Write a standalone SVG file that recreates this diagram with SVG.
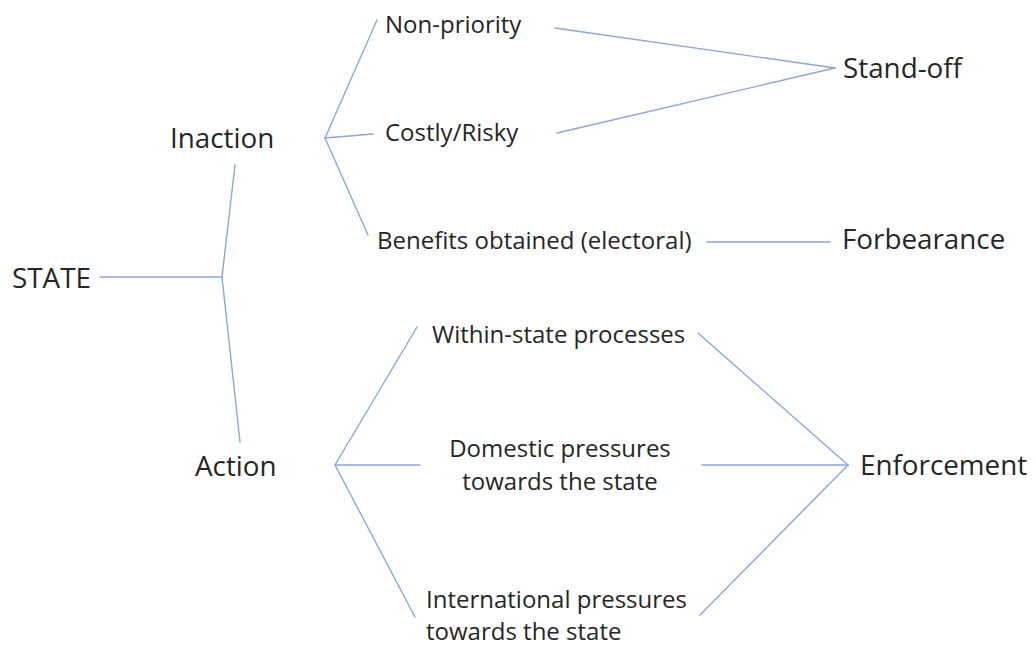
<svg xmlns="http://www.w3.org/2000/svg" width="1036" height="648" viewBox="0 0 1036 648">
<style>
text { font-family: "Open Sans", "Noto Sans", "DejaVu Sans", sans-serif; fill: #262626; }
.big { font-size: 27.8px; }
.small { font-size: 24px; }
.conn line { stroke: #8ea5d6; stroke-width: 1.4; fill: none; stroke-linecap: round; }
</style>
<rect width="1036" height="648" fill="#ffffff"/>
<g class="conn" id="connectors">
  <line x1="100" y1="277" x2="222" y2="277"/>
  <line x1="235" y1="165" x2="222" y2="277"/>
  <line x1="222" y1="277" x2="240" y2="442"/>
  <line x1="325" y1="138" x2="377" y2="20"/>
  <line x1="325" y1="138" x2="373" y2="134"/>
  <line x1="325" y1="138" x2="368" y2="235"/>
  <line x1="555" y1="28" x2="835" y2="68"/>
  <line x1="557" y1="133" x2="835" y2="68"/>
  <line x1="707" y1="242" x2="830" y2="242"/>
  <line x1="335" y1="465" x2="417" y2="327"/>
  <line x1="335" y1="465" x2="420" y2="465"/>
  <line x1="335" y1="465" x2="415" y2="617"/>
  <line x1="698" y1="333" x2="848" y2="465"/>
  <line x1="702" y1="465" x2="848" y2="465"/>
  <line x1="700" y1="615" x2="848" y2="465"/>
</g>
<g id="state"><text class="big" x="12" y="288">STATE</text></g>
<g id="inaction"><text class="big" x="170" y="148">Inaction</text></g>
<g id="action"><text class="big" x="195" y="476">Action</text></g>
<g id="non-priority"><text class="small" x="385" y="33">Non-priority</text></g>
<g id="costly-risky"><text class="small" x="385" y="141">Costly/Risky</text></g>
<g id="benefits"><text class="small" x="377" y="249">Benefits obtained (electoral)</text></g>
<g id="stand-off"><text class="big" x="843" y="78">Stand-off</text></g>
<g id="forbearance"><text class="big" x="842" y="249">Forbearance</text></g>
<g id="within-state"><text class="small" x="432" y="343">Within-state processes</text></g>
<g id="domestic"><text class="small" x="560" y="457" text-anchor="middle">Domestic pressures</text><text class="small" x="560" y="490" text-anchor="middle">towards the state</text></g>
<g id="international"><text class="small" x="426" y="608">International pressures</text><text class="small" x="426" y="640">towards the state</text></g>
<g id="enforcement"><text class="big" x="860" y="475">Enforcement</text></g>
</svg>
